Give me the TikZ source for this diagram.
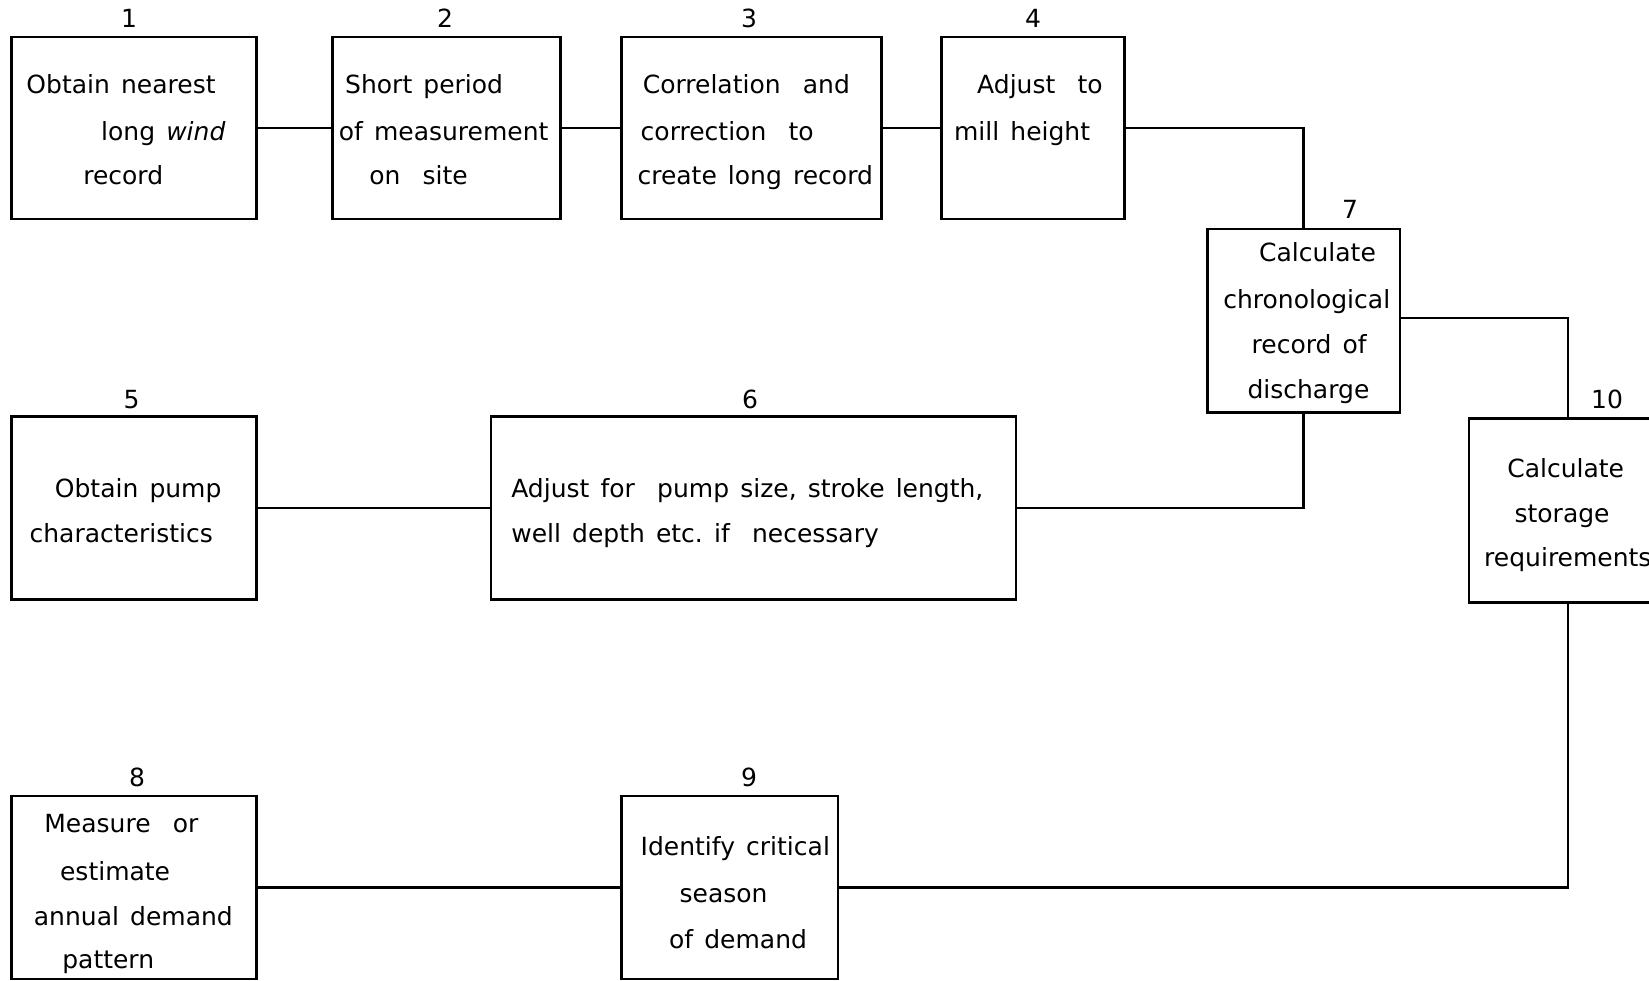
\documentclass[tikz,border=0pt]{standalone}
\usepackage{fontspec}
\setmainfont[WordSpace=1.4]{DejaVu Sans}
\begin{document}
\begin{tikzpicture}[x=1pt,y=-1pt,
  box/.style={draw, line width=2.4pt, inner sep=0pt, rectangle},
  wire/.style={line width=2.4pt},
  txt/.style={anchor=west, inner sep=0pt, font=\fontsize{25}{30}\selectfont, text height=0.55em, text depth=0pt, yshift=-6.5pt},
  num/.style={anchor=center, inner sep=0pt, font=\fontsize{25}{30}\selectfont, text height=0.73em, text depth=0pt, yshift=-5pt}]
\useasboundingbox (0,0) rectangle (1649,981);
\clip (0,0) rectangle (1649,981);
% boxes
\node[box, minimum width=245pt, minimum height=182pt] (b1) at (134.1,127.8) {};
\node[box, minimum width=228.3pt, minimum height=182pt] (b2) at (446.45,127.8) {};
\node[box, minimum width=259.7pt, minimum height=182pt] (b3) at (751.45,127.8) {};
\node[box, minimum width=183pt, minimum height=182pt] (b4) at (1032.8,127.8) {};
\node[box, minimum width=192.4pt, minimum height=183pt] (b7) at (1303.6,320.8) {};
\node[box, minimum width=197.6pt, minimum height=184pt] (b10) at (1568,510.6) {};
\node[box, minimum width=245pt, minimum height=183pt] (b5) at (134.1,508) {};
\node[box, minimum width=524.9pt, minimum height=183pt] (b6) at (753.55,508) {};
\node[box, minimum width=245pt, minimum height=183pt] (b8) at (134.1,887.5) {};
\node[box, minimum width=216.6pt, minimum height=183pt] (b9) at (729.9,887.5) {};
% numbers
\node[num] (n1) at (129,19) {1};
\node[num] (n2) at (445,19) {2};
\node[num] (n3) at (749,19) {3};
\node[num] (n4) at (1033,19) {4};
\node[num] (n7) at (1350,210) {7};
\node[num] (n10) at (1607,400) {10};
\node[num] (n5) at (131.5,400) {5};
\node[num] (n6) at (750,400) {6};
\node[num] (n8) at (137,778) {8};
\node[num] (n9) at (749,778) {9};
% texts
\node[txt] (t1a) at (26.3,84.1) {Obtain nearest};
\node[txt] (t1b) at (101,131.5) {long \textit{wind}};
\node[txt] (t1c) at (83.1,175.6) {record};
\node[txt] (t2a) at (345,84.1) {Short period};
\node[txt] (t2b) at (338.6,131.5) {of measurement};
\node[txt] (t2c) at (369.1,175.6) {on\ \ site};
\node[txt] (t3a) at (642.6,84.1) {Correlation\ \ and};
\node[txt] (t3b) at (640.5,131.5) {correction\ \ to};
\node[txt] (t3c) at (637.3,175.6) {create long record};
\node[txt] (t4a) at (977,84.1) {Adjust\ \ to};
\node[txt] (t4b) at (953.9,131.5) {mill height};
\node[txt] (t7a) at (1258.9,252.4) {Calculate};
\node[txt] (t7b) at (1223.1,299.7) {chronological};
\node[txt] (t7c) at (1251.5,343.9) {record of};
\node[txt] (t7d) at (1247.3,389.1) {discharge};
\node[txt] (t10a) at (1507.1,468) {Calculate};
\node[txt] (t10b) at (1514.4,513.2) {storage};
\node[txt] (t10c) at (1484,557.4) {requirements};
\node[txt] (t5a) at (54.7,488) {Obtain pump};
\node[txt] (t5b) at (29.4,533.2) {characteristics};
\node[txt] (t6a) at (511.1,488) {Adjust\ for\ \ pump size, stroke length,};
\node[txt] (t6b) at (511.1,533.2) {well depth etc.\ if\ \ necessary};
\node[txt] (t8a) at (44.2,823.5) {Measure\ \ or};
\node[txt] (t8b) at (59.9,870.8) {estimate};
\node[txt] (t8c) at (33.7,916) {annual demand};
\node[txt] (t8d) at (62.1,959.1) {pattern};
\node[txt] (t9a) at (640.5,846.6) {Identify critical};
\node[txt] (t9b) at (679.4,892.9) {season};
\node[txt] (t9c) at (668.9,939.2) {of demand};
% connectors
\draw[wire] (b1.east) -- (b2.west);
\draw[wire] (b2.east) -- (b3.west);
\draw[wire] (b3.east) -- (b4.west);
\draw[wire] (b4.east) -| (b7.north);
\draw[wire] (b5.east) -- (b6.west);
\draw[wire] (b6.east) -| (b7.south);
\draw[wire] ([yshift=3pt]b7.east) -| (b10.north);
\draw[wire] (b10.south) |- (b9.east);
\draw[wire] (b8.east) -- (b9.west);
\end{tikzpicture}
\end{document}
